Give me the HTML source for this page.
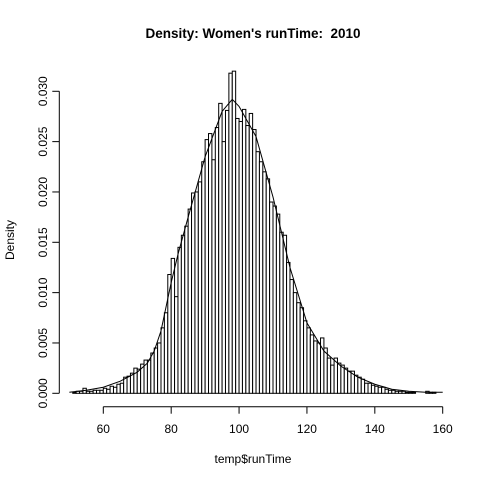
<!DOCTYPE html>
<html><head><meta charset="utf-8"><style>
body{margin:0;background:#fff}
svg{display:block;font-family:"Liberation Sans",Arial,sans-serif}
</style></head><body>
<svg id="chart" width="480" height="480">
<rect width="480" height="480" fill="#fff"/>
<text x="253" y="38" text-anchor="middle" font-weight="bold" font-size="13.5">Density: Women's runTime:&#160; 2010</text>
<text x="253" y="463" text-anchor="middle" font-size="12">temp$runTime</text>
<text transform="translate(14,240) rotate(-90)" text-anchor="middle" font-size="12">Density</text>
<g id="bars"></g>
<path id="curve" fill="none" stroke="#000" stroke-width="1"/>
<g id="xaxis"></g>
<g id="yaxis"></g>
</svg>
<script>
const binStart = 51;
const densities = [0.0001,0.0002,0.0002,0.0005,0.0002,0.0002,0.0003,0.0003,0.0003,
0.0005,0.0004,0.0007,0.0006,0.0009,0.0010,0.0016,0.0017,0.0020,0.0025,0.0024,
0.0029,0.0033,0.0033,0.0040,0.0045,0.0050,0.0065,0.0080,0.0118,0.0134,
0.0096,0.0145,0.0157,0.0166,0.0183,0.0199,0.0200,0.0210,0.0230,0.0252,
0.0258,0.0232,0.0264,0.0288,0.0250,0.0281,0.0318,0.0320,0.0273,0.0270,
0.0282,0.0266,0.0278,0.0262,0.0240,0.0230,0.0220,0.0213,0.0190,0.0186,
0.0178,0.0160,0.0157,0.0130,0.0113,0.0100,0.0090,0.0085,0.0072,0.0065,
0.0058,0.0052,0.0050,0.0055,0.0045,0.0035,0.0028,0.0035,0.0030,0.0028,
0.0025,0.0022,0.0022,0.0018,0.0016,0.0014,0.0010,0.0010,0.0008,0.0007,
0.0006,0.0006,0.0004,0.0003,0.0003,0.0002,0.0002,0.0002,0.0001,0.0001,
0.0001,0,0,0,0.0002,0.0001,0.0001];
const curveX = [50,55,60,65,70,73,75,77,80,82,85,90,95,98,100,105,110,115,120,125,130,135,140,145,150,155,160];
const curveY = [0.0001,0.0003,0.0006,0.0012,0.0021,0.0030,0.0042,0.0062,0.0110,0.0138,0.0175,0.0235,0.0280,0.0292,0.0285,0.0255,0.0195,0.0125,0.0070,0.0042,0.0027,0.0016,0.0009,0.0004,0.0002,0.0001,0.0001];
const xTicks = [60,80,100,120,140,160];
const yTicks = [0.000,0.005,0.010,0.015,0.020,0.025,0.030];
const yTickLabels = ["0.000","0.005","0.010","0.015","0.020","0.025","0.030"];

const NS="http://www.w3.org/2000/svg";
const X = v => 103.3 + (v-60)*3.394;
const Y = d => 393.3 - d*10067;
function mk(tag, attrs, parent){const e=document.createElementNS(NS,tag);for(const k in attrs)e.setAttribute(k,attrs[k]);parent.appendChild(e);return e;}

const bars=document.getElementById('bars');
densities.forEach((d,i)=>{
  const x0=X(binStart+i), x1=X(binStart+i+1);
  const r=mk('rect',{x:x0.toFixed(2),y:Y(d).toFixed(2),width:(x1-x0).toFixed(2),height:(Y(0)-Y(d)).toFixed(2),fill:'#fff',stroke:'#000','stroke-width':1},bars);
  
  
});
document.getElementById('curve').setAttribute('d', curveX.map((x,i)=>(i?'L':'M')+X(x).toFixed(2)+','+Y(curveY[i]).toFixed(2)).join(' '));

const xa=document.getElementById('xaxis');
mk('line',{x1:X(60),x2:X(160),y1:406.7,y2:406.7,stroke:'#000'},xa);
xTicks.forEach(t=>{
  mk('line',{x1:X(t),x2:X(t),y1:406.7,y2:413.7,stroke:'#000'},xa);
  const tx=mk('text',{x:X(t),y:433,'text-anchor':'middle','font-size':12},xa);
  tx.textContent=t;
  
  
});
const ya=document.getElementById('yaxis');
mk('line',{x1:59.3,x2:59.3,y1:Y(0),y2:Y(0.030),stroke:'#000'},ya);
yTicks.forEach((t,i)=>{
  mk('line',{x1:52.3,x2:59.3,y1:Y(t),y2:Y(t),stroke:'#000'},ya);
  const tx=mk('text',{transform:`translate(47,${Y(t).toFixed(2)}) rotate(-90)`,'text-anchor':'middle','font-size':12},ya);
  tx.textContent=yTickLabels[i];
  
  
});
</script>
</body></html>
